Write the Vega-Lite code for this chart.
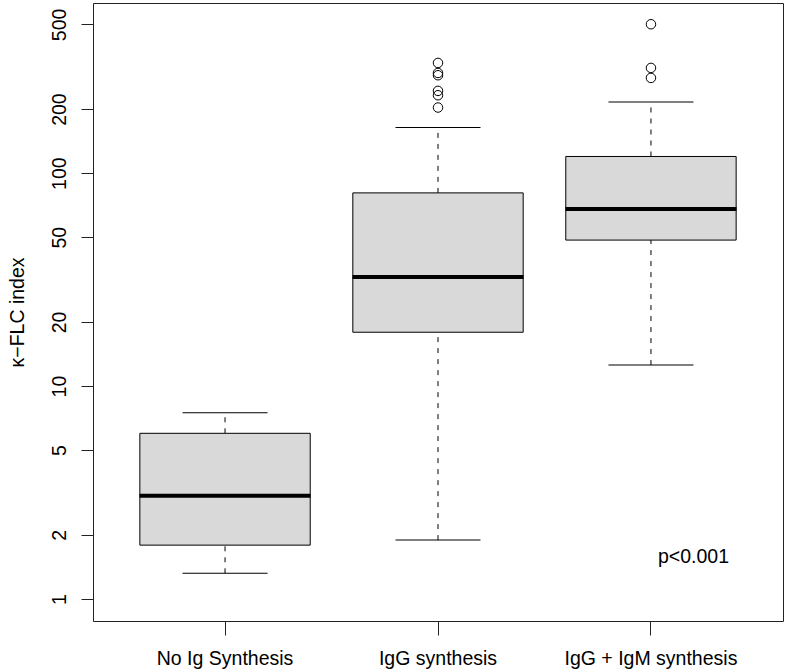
{
  "$schema": "https://vega.github.io/schema/vega-lite/v6.json",
  "width": 690,
  "height": 618,
  "autosize": {"type": "none"},
  "padding": {"left": 93, "top": 3, "right": 3, "bottom": 51},
  "background": "white",
  "config": {
    "font": "Liberation Sans",
    "view": {"stroke": "#222", "strokeWidth": 1},
    "axis": {"grid": false, "domain": false, "tickColor": "#222", "labelColor": "black", "titleColor": "black", "labelFont": "Liberation Sans", "titleFont": "Liberation Sans", "labelFontSize": 19.5, "titleFontSize": 19.5, "titleFontWeight": "normal"}
  },
  "datasets": {
    "stats": [
      {"group": "No Ig Synthesis", "lo": 1.32, "q1": 1.79, "med": 3.05, "q3": 6.0, "hi": 7.49},
      {"group": "IgG synthesis", "lo": 1.89, "q1": 17.9, "med": 32.5, "q3": 80.8, "hi": 164},
      {"group": "IgG + IgM synthesis", "lo": 12.55, "q1": 48.5, "med": 67.8, "q3": 119.8, "hi": 216}
    ],
    "outliers": [
      {"group": "IgG synthesis", "value": 329.5},
      {"group": "IgG synthesis", "value": 295.6},
      {"group": "IgG synthesis", "value": 288.4},
      {"group": "IgG synthesis", "value": 243.5},
      {"group": "IgG synthesis", "value": 232.3},
      {"group": "IgG synthesis", "value": 203.4},
      {"group": "IgG + IgM synthesis", "value": 500.7},
      {"group": "IgG + IgM synthesis", "value": 312.2},
      {"group": "IgG + IgM synthesis", "value": 280.2}
    ],
    "note": [
      {"group": "IgG + IgM synthesis", "value": 1.57, "label": "p<0.001"}
    ]
  },
  "encoding": {
    "x": {
      "field": "group", "type": "nominal",
      "sort": ["No Ig Synthesis", "IgG synthesis", "IgG + IgM synthesis"],
      "scale": {"domain": ["No Ig Synthesis", "IgG synthesis", "IgG + IgM synthesis"], "paddingInner": 0.2, "paddingOuter": 0.22},
      "axis": {"title": null, "labelAngle": 0, "tickSize": 14, "labelPadding": 29, "labelBaseline": "alphabetic"}
    }
  },
  "layer": [
    {
      "data": {"name": "stats"},
      "mark": {"type": "rule", "color": "black", "strokeWidth": 1, "strokeDash": [5, 6]},
      "encoding": {
        "y": {
          "field": "q3", "type": "quantitative",
          "scale": {"type": "log", "domain": [0.788, 630], "nice": false, "zero": false},
          "axis": {"title": "κ−FLC index", "values": [1, 2, 5, 10, 20, 50, 100, 200, 500], "labelAngle": 270, "labelAlign": "center", "labelBaseline": "alphabetic", "tickSize": 12, "labelPadding": 16, "titleAngle": 270, "titleX": -70, "titleY": 309, "titleAlign": "center", "titleBaseline": "alphabetic", "format": "d"}
        },
        "y2": {"field": "hi"}
      }
    },
    {
      "data": {"name": "stats"},
      "mark": {"type": "rule", "color": "black", "strokeWidth": 1, "strokeDash": [5, 6]},
      "encoding": {
        "y": {"field": "lo", "type": "quantitative"},
        "y2": {"field": "q1"}
      }
    },
    {
      "data": {"name": "stats"},
      "mark": {"type": "rect", "fill": "#d9d9d9", "stroke": "black", "strokeWidth": 1},
      "encoding": {
        "y": {"field": "q1", "type": "quantitative"},
        "y2": {"field": "q3"}
      }
    },
    {
      "data": {"name": "stats"},
      "mark": {"type": "tick", "color": "black", "size": 171, "thickness": 4, "opacity": 1},
      "encoding": {
        "y": {"field": "med", "type": "quantitative"}
      }
    },
    {
      "data": {"name": "stats"},
      "mark": {"type": "tick", "color": "black", "size": 85, "thickness": 1, "opacity": 1},
      "encoding": {
        "y": {"field": "hi", "type": "quantitative"}
      }
    },
    {
      "data": {"name": "stats"},
      "mark": {"type": "tick", "color": "black", "size": 85, "thickness": 1, "opacity": 1},
      "encoding": {
        "y": {"field": "lo", "type": "quantitative"}
      }
    },
    {
      "data": {"name": "outliers"},
      "mark": {"type": "point", "shape": "circle", "filled": false, "size": 90, "stroke": "black", "strokeWidth": 1, "opacity": 1},
      "encoding": {
        "y": {"field": "value", "type": "quantitative"}
      }
    },
    {
      "data": {"name": "note"},
      "mark": {"type": "text", "fontSize": 19.5, "color": "black", "dx": 42.5, "align": "center", "baseline": "middle", "font": "Liberation Sans"},
      "encoding": {
        "y": {"field": "value", "type": "quantitative"},
        "text": {"field": "label"}
      }
    }
  ]
}
